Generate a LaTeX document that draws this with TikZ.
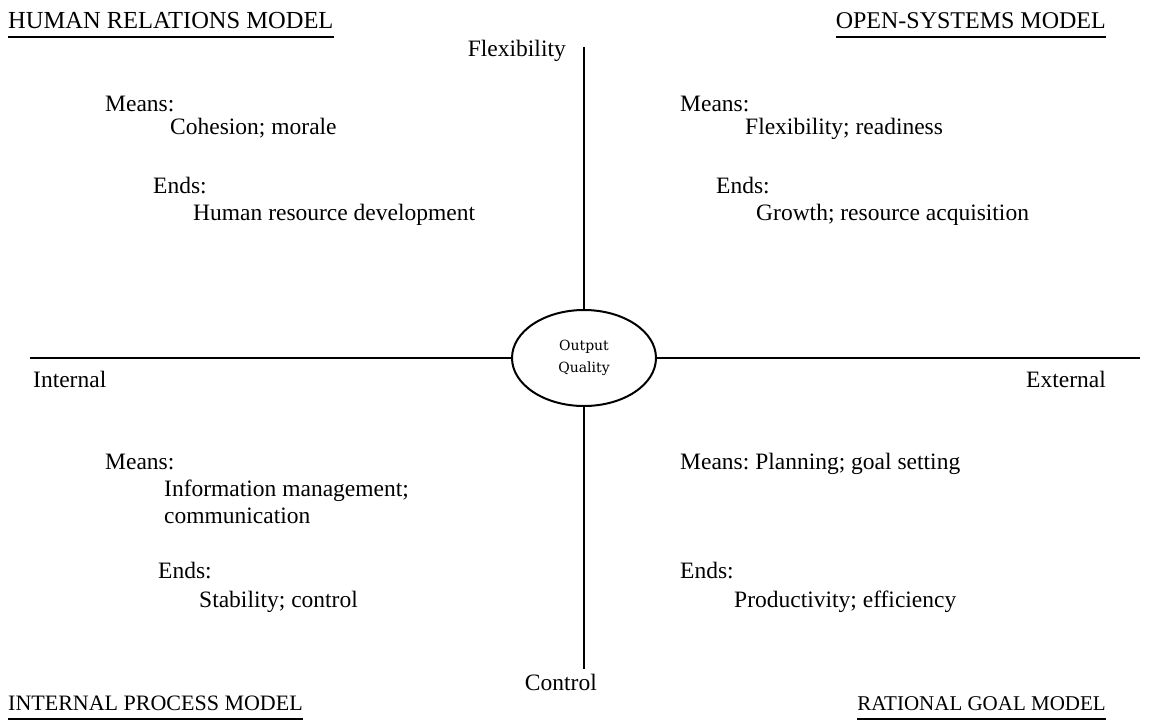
\documentclass[tikz,border=0pt]{standalone}
\usepackage{fontspec}
\setmainfont{Liberation Serif}
\newfontfamily\ellfont{DejaVu Serif}
\usetikzlibrary{shapes.geometric}
\frenchspacing
\begin{document}
\begin{tikzpicture}[x=1pt,y=-1pt,
  txt/.style={inner sep=0pt,anchor=base west,font=\fontsize{23.5}{28}\selectfont},
  txtr/.style={txt,anchor=base east},
  axis/.style={line width=2.6pt},
  uline/.style={line width=2.2pt},
  hub/.style={ellipse,draw,line width=2pt,minimum width=144,minimum height=96,inner sep=0pt,
    align=center,font=\ellfont\fontsize{14}{22}\selectfont}]
\useasboundingbox (0,0) rectangle (1161,723);

% centre and axes
\node[hub] (hub) at (584,358) {Output\\Quality};
\coordinate (top) at (584,47);
\coordinate (bot) at (584,669);
\coordinate (lft) at (30,358);
\coordinate (rgt) at (1140,358);
\draw[axis] (top) -- (hub.north);
\draw[axis] (hub.south) -- (bot);
\draw[axis] (lft) -- (hub.west);
\draw[axis] (hub.east) -- (rgt);

% axis labels
\node[txtr] (flex) at (566,56) {Flexibility};
\node[txtr] (ctrl) at (597,690) {Control};
\node[txt] (int) at (33,387) {Internal};
\node[txtr] (ext) at (1106,387) {External};

% model titles
\node[txt,font=\fontsize{24.5}{28}\selectfont] (hr) at (8,28) {HUMAN RELATIONS MODEL};
\node[txtr,font=\fontsize{24}{28}\selectfont] (os) at (1106,28) {OPEN-SYSTEMS MODEL};
\node[txt,font=\fontsize{22}{28}\selectfont] (ip) at (8,710) {INTERNAL PROCESS MODEL};
\node[txtr,font=\fontsize{21}{28}\selectfont] (rg) at (1106,710) {RATIONAL GOAL MODEL};
\foreach \t in {hr,os,ip,rg}
  \draw[uline] ([yshift=-9]\t.base west) -- ([yshift=-9]\t.base east);

% human relations quadrant
\node[txt] (hrm) at (105,111) {Means:};
\node[txt] (hrmv) at (170,134) {Cohesion; morale};
\node[txt] (hre) at (153,193) {Ends:};
\node[txt] (hrev) at (193,220) {Human resource development};

% open-systems quadrant
\node[txt] (osm) at (680,111) {Means:};
\node[txt] (osmv) at (745,134) {Flexibility; readiness};
\node[txt] (ose) at (716,193) {Ends:};
\node[txt] (osev) at (756,220) {Growth; resource acquisition};

% internal process quadrant
\node[txt] (ipm) at (105,469) {Means:};
\node[txt] (ipmv) at (164,496) {Information management;};
\node[txt] (ipmw) at (164,523) {communication};
\node[txt] (ipe) at (158,578) {Ends:};
\node[txt] (ipev) at (199,607) {Stability; control};

% rational goal quadrant
\node[txt] (rgm) at (680,469) {Means: Planning; goal setting};
\node[txt] (rge) at (680,578) {Ends:};
\node[txt] (rgev) at (734,607) {Productivity; efficiency};
\end{tikzpicture}
\end{document}
